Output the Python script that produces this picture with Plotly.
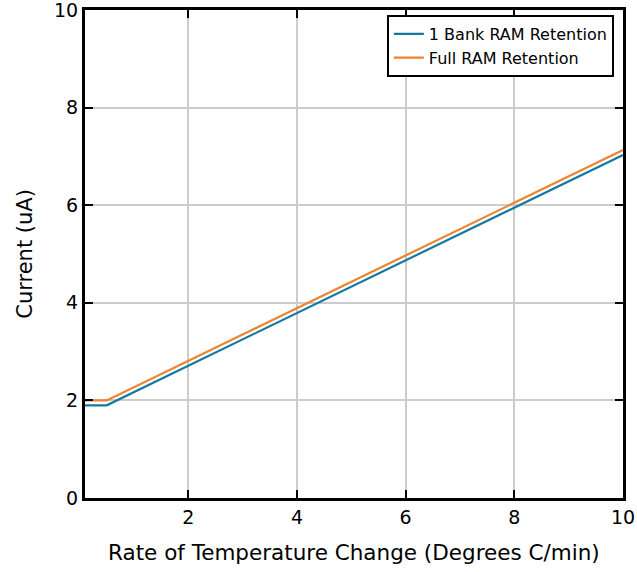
import plotly.graph_objects as go

rate = [0.1, 0.5, 10.0]
bank1_current = [1.9, 1.9, 7.03]
full_current = [2.0, 2.0, 7.13]

x_ticks = [2, 4, 6, 8, 10]
y_ticks = [0, 2, 4, 6, 8, 10]

font = "DejaVu Sans"

fig = go.Figure()
fig.add_trace(go.Scatter(x=rate, y=bank1_current, mode="lines", name="1 Bank RAM Retention",
                         line=dict(color="#1478a0", width=2.2)))
fig.add_trace(go.Scatter(x=rate, y=full_current, mode="lines", name="Full RAM Retention",
                         line=dict(color="#ec8430", width=2.2)))

axis_common = dict(showline=True, linecolor="black", linewidth=3, mirror="allticks",
                   ticks="inside", ticklen=8, tickwidth=1.5, tickcolor="black",
                   showgrid=True, gridcolor="#cccccc", gridwidth=2, zeroline=False,
                   automargin=False, ticklabeloverflow="allow",
                   tickfont=dict(family=font, size=19, color="black"))

fig.update_xaxes(range=[0.1, 10], tickvals=x_ticks, **axis_common)
fig.update_yaxes(range=[0, 10], tickvals=y_ticks, **axis_common)

fig.add_annotation(text="Current (uA)", textangle=-90, xref="paper", yref="paper",
                   x=-0.112, y=0.5, xanchor="center", yanchor="middle", showarrow=False,
                   font=dict(family=font, size=21, color="black"))
fig.add_annotation(text="Rate of Temperature Change (Degrees C/min)", xref="paper", yref="paper",
                   x=0.5, y=-0.111, xanchor="center", yanchor="middle", showarrow=False,
                   font=dict(family=font, size=21.5, color="black"))

fig.update_layout(
    width=637, height=572,
    margin=dict(l=85, r=14, t=10, b=74),
    paper_bgcolor="white", plot_bgcolor="white",
    showlegend=True,
    legend=dict(x=0.983, y=0.99, xanchor="right", yanchor="top",
                bordercolor="black", borderwidth=2, bgcolor="white",
                tracegroupgap=0, itemwidth=30,
                font=dict(family=font, size=16, color="black")),
)

fig.write_html("out.html", config={"displayModeBar": False},
               post_script="document.body.style.margin='0';")
